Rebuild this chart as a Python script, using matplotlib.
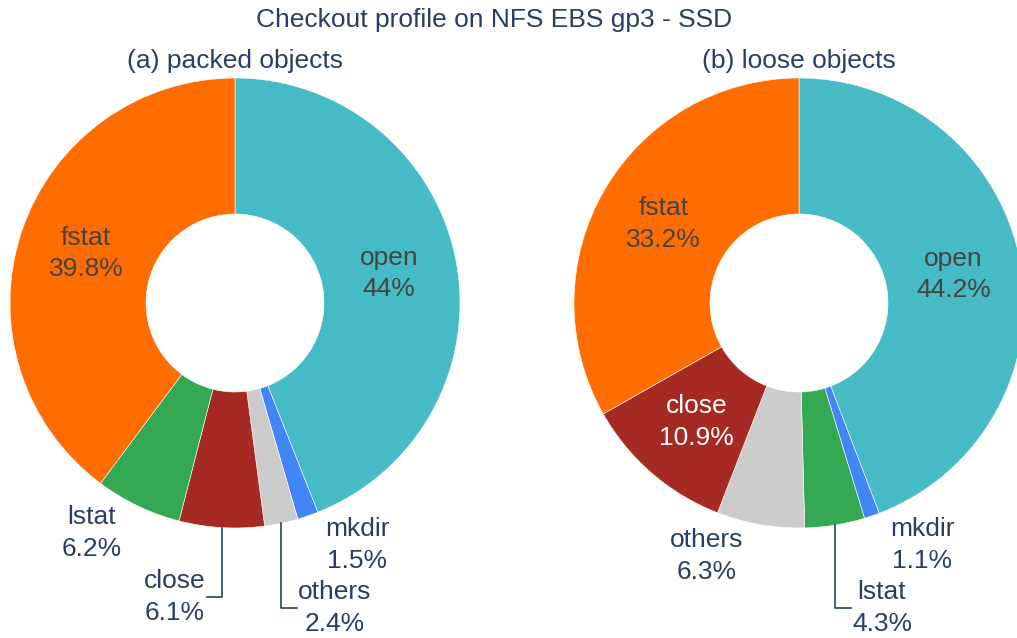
import numpy as np
import matplotlib.pyplot as plt

# data, clockwise from 12 o'clock
packed_labels = ['open', 'mkdir', 'others', 'close', 'lstat', 'fstat']
packed_values = [44.0, 1.5, 2.4, 6.1, 6.2, 39.8]
loose_labels = ['open', 'mkdir', 'lstat', 'others', 'close', 'fstat']
loose_values = [44.2, 1.1, 4.3, 6.3, 10.9, 33.2]

colors = {'open': '#46BBC6', 'fstat': '#FF6D01', 'lstat': '#34A853',
          'close': '#A52A24', 'others': '#CCCCCC', 'mkdir': '#4285F4'}
txt = '#2a3f5f'

plt.rcParams['font.family'] = ['Liberation Sans', 'DejaVu Sans']

W, H = 1017, 638
fig = plt.figure(figsize=(W / 100, H / 100), dpi=100)
ax = fig.add_axes([0, 0, 1, 1])

R, hole = 225, 89
fs = 19
ls = 1.4

# label placement for slices too small for inside text (pixel coords, y from top)
outside = {
    'packed': {'lstat': (92, 533, None), 'close': (175, 597, 'L'),
               'others': (335, 608, 'R'), 'mkdir': (357, 545, None)},
    'loose': {'others': (707, 556, None), 'mkdir': (922, 545, None),
              'lstat': (882, 608, 'R')},
}


def donut(cx, cy, labels, values, key):
    wedges, _ = ax.pie(values, colors=[colors[l] for l in labels], radius=R,
                       center=(cx, H - cy), startangle=90, counterclock=False,
                       wedgeprops=dict(width=R - hole, edgecolor='white', linewidth=0.4))
    for w, lab, v in zip(wedges, labels, values):
        mid = np.deg2rad((w.theta1 + w.theta2) / 2)
        s = f'{lab}\n{v:g}%'
        if lab in outside[key]:
            tx, ty, side = outside[key][lab]
            ax.text(tx, H - ty, s, ha='center', va='center', fontsize=fs,
                    color=txt, linespacing=ls)
            if side:
                x0 = cx + R * np.cos(mid)
                y0 = H - cy + R * np.sin(mid)
                x1 = x0 - 15 if side == 'L' else x0 + 16
                ax.plot([x0, x0, x1], [y0, H - ty, H - ty], color=txt, lw=1.2)
        else:
            rm = (R + hole) / 2
            c = 'white' if lab == 'close' else '#444444'
            ax.text(cx + rm * np.cos(mid), H - cy + rm * np.sin(mid), s,
                    ha='center', va='center', fontsize=fs, color=c, linespacing=ls)


donut(235, 303, packed_labels, packed_values, 'packed')
donut(799, 303, loose_labels, loose_values, 'loose')

ax.set_xlim(0, W)
ax.set_ylim(0, H)
ax.set_aspect('auto')
ax.axis('off')

fig.text(494 / W, 1 - 20 / H, 'Checkout profile on NFS EBS gp3 - SSD', ha='center',
         va='center', fontsize=19, color=txt)
fig.text(235 / W, 1 - 61 / H, '(a) packed objects', ha='center', va='center',
         fontsize=19, color=txt)
fig.text(799 / W, 1 - 61 / H, '(b) loose objects', ha='center', va='center',
         fontsize=19, color=txt)

fig.savefig('out.png', dpi=100)
